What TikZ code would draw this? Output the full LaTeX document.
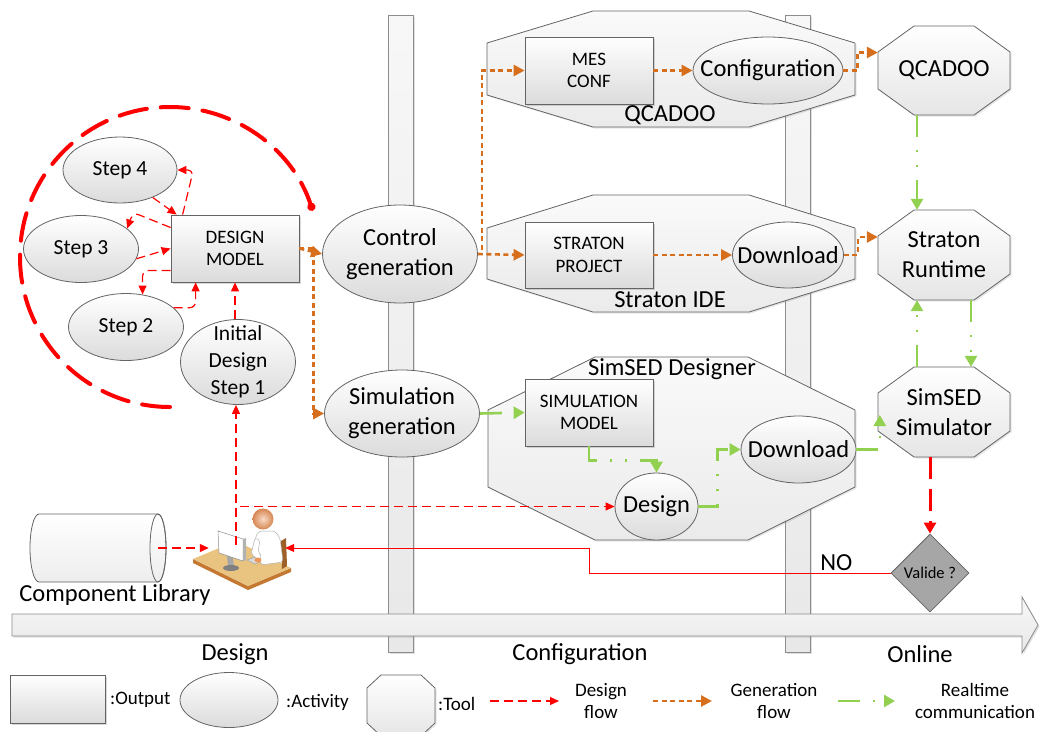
\documentclass[tikz,border=0pt]{standalone}
\usepackage{fontspec}
\setmainfont{Carlito}
\usetikzlibrary{arrows.meta,positioning,shapes.geometric,shadows}

\definecolor{flowred}{RGB}{255,0,0}
\definecolor{flowor}{RGB}{214,110,28}
\definecolor{flowgr}{RGB}{146,208,80}
\definecolor{rimgray}{RGB}{100,100,100}
\definecolor{decgray}{RGB}{166,166,166}
\definecolor{skin}{RGB}{238,150,90}
\definecolor{desktop}{RGB}{232,196,128}
\definecolor{deskside}{RGB}{196,120,50}

\newcommand\bigf{\fontsize{24.5}{30}\selectfont}
\newcommand\stepf{\fontsize{21.5}{27}\selectfont}
\newcommand\boxf{\fontsize{19}{22.5}\selectfont}
\newcommand\legf{\fontsize{19}{22}\selectfont}

% octagon given by its box (x1,y1,x2,y2) and the corner cuts (dx,dy)
\newcommand\octa[7][]{%
  \path[#1] (#2+#6,#3) -- (#4-#6,#3) -- (#4,#3+#7) -- (#4,#5-#7) -- (#4-#6,#5) -- (#2+#6,#5) -- (#2,#5-#7) -- (#2,#3+#7) -- cycle;}

\begin{document}
\begin{tikzpicture}[x=1pt,y=-1pt,
  every node/.style={inner sep=0pt},
  shadebox/.style={draw=rimgray,line width=.8pt,top color=white,bottom color=black!14},
  act/.style={shadebox,ellipse},
  outp/.style={shadebox,rectangle,font=\boxf,align=center,drop shadow={shadow xshift=1.5pt,shadow yshift=-1.5pt,opacity=.3}},
  grp/.style={draw=rimgray,line width=.8pt,top color=black!2,bottom color=black!8,drop shadow={shadow xshift=1.5pt,shadow yshift=-1.5pt,opacity=.2}},
  toolbg/.style={draw=rimgray,line width=.8pt,top color=white,bottom color=black!10,drop shadow={shadow xshift=1.5pt,shadow yshift=-1.5pt,opacity=.2}},
  tool/.style={rectangle,font=\bigf,align=center},
  lane/.style={draw=black!45,line width=.8pt,top color=black!3,bottom color=black!9,drop shadow={shadow xshift=1.5pt,shadow yshift=-1.5pt,opacity=.25}},
  dflow/.style={flowred,line width=1.2pt,dash pattern=on 9pt off 5pt,-{Triangle[length=9pt,width=8pt]}},
  gflow/.style={flowor,line width=2.6pt,dash pattern=on 5pt off 3.5pt,-{Triangle[length=11pt,width=11pt]}},
  rflow/.style={flowgr,line width=2.6pt,dash pattern=on 22pt off 13pt on 2pt off 13pt on 2pt off 13pt,-{Triangle[length=11pt,width=12pt]}},
  lbl/.style={font=\bigf,align=center},
  leg/.style={font=\legf,align=center}]
\useasboundingbox (0,0) rectangle (1040,731);

% lanes and time axis
\path[lane] (388,15) rectangle (413,652);
\path[lane] (785,15) rectangle (810,652);
\path[lane] (12,614) -- (1022,614) -- (1022,597) -- (1038,625) -- (1022,653) -- (1022,636) -- (12,636) -- cycle;

% tools
\octa[grp]{487}{11}{855}{127}{106}{32}
\octa[grp]{487}{195}{855}{312}{106}{33}
\octa[grp]{488}{357}{855}{540}{107}{53}
\octa[toolbg]{878}{26}{1010}{115}{36}{26}
\octa[toolbg]{878}{210}{1010}{300}{36}{26}
\octa[toolbg]{878}{367}{1010}{457}{36}{26}

\coordinate (loop_start) at (170,407);
\draw[flowred,line width=4pt,dash pattern=on 28pt off 14pt,line cap=round,-{Circle[length=8pt]}] (loop_start) arc[start angle=90,end angle=342,radius=150];

\node[act,minimum width=114pt,minimum height=66pt,label={[font=\stepf]center:Step 4}] (step_4) at (120,170) {};
\node[act,minimum width=115pt,minimum height=67pt,label={[font=\stepf]center:Step 3}] (step_3) at (81,249) {};
\node[act,minimum width=115pt,minimum height=67pt,label={[font=\stepf]center:Step 2}] (step_2) at (126,327) {};
\node[act,minimum width=115pt,minimum height=85pt,label={[font=\stepf,align=center]center:Initial\\Design\\Step 1}] (initial) at (238,362) {};
\node[outp,minimum width=128pt,minimum height=67pt] (design_model) at (235,248.5) {DESIGN\\MODEL};

\node[act,minimum width=155pt,minimum height=98pt,label={[lbl]center:Control\\generation}] (ctrl_gen) at (400,254) {};
\node[act,minimum width=155pt,minimum height=87pt,label={[lbl]center:Simulation\\generation}] (sim_gen) at (402,413.5) {};

\node[outp,minimum width=128pt,minimum height=67pt] (mes_conf) at (589,70.5) {MES\\CONF};
\node[act,minimum width=150pt,minimum height=67pt,label={[lbl]center:Configuration}] (config) at (768,70.5) {};
\node[lbl] (qcadoo_grp) at (670,115) {QCADOO};
\node[outp,minimum width=128pt,minimum height=66pt] (straton_prj) at (589,255) {STRATON\\PROJECT};
\node[act,minimum width=111pt,minimum height=66pt,label={[lbl]center:Download}] (download_ide) at (788,255) {};
\node[lbl] (straton_grp) at (670,300) {Straton IDE};
\node[lbl] (simsed_grp) at (672,369) {SimSED Designer};
\node[outp,minimum width=128pt,minimum height=67pt] (sim_model) at (589,412.5) {SIMULATION\\MODEL};
\node[act,minimum width=83pt,minimum height=67pt,label={[lbl]center:Design}] (sim_design) at (656.5,506.5) {};
\node[act,minimum width=115pt,minimum height=67pt,label={[lbl]center:Download}] (download_sim) at (798.5,449.5) {};

\node[tool,minimum width=132pt,minimum height=89pt] (qcadoo_rt) at (944,70.5) {QCADOO};
\node[tool,minimum width=132pt,minimum height=90pt] (straton_rt) at (944,255) {Straton\\Runtime};
\node[tool,minimum width=132pt,minimum height=90pt] (simsed_sim) at (944,412) {SimSED\\Simulator};
\node[diamond,draw=rimgray,line width=.8pt,fill=decgray,minimum width=78pt,minimum height=78pt,font=\fontsize{16.5}{20}\selectfont] (valide) at (930,573) {Valide ?};

% component library drum
\path[draw=rimgray,line width=.8pt,top color=white,bottom color=black!7] (158,514) -- (39,514) arc[start angle=270,end angle=90,x radius=9,y radius=34] -- (158,582) arc[start angle=90,end angle=-90,x radius=8,y radius=34] -- cycle;
\draw[rimgray,line width=.8pt] (158,548) ellipse (8 and 34);
\node[minimum width=136pt,minimum height=68pt] (comp_lib) at (98,548) {};
\node[lbl,anchor=north] (lib_txt) at (115,584) {Component Library};

% designer at his desk
\node[minimum width=76pt,minimum height=6pt] (user) at (247,548) {};
\begin{scope}[shift={(user.center)}]
  \fill[deskside] (-54,11) -- (1,38) -- (44,20) -- (44,24) -- (1,42) -- (-54,15) -- cycle;
  \fill[desktop] (-54,11) -- (-11,-7) -- (44,20) -- (1,38) -- cycle;
  \fill[deskside!80!black] (34,-7) -- (39,-10) -- (40,18) -- (35,21) -- cycle;
  \filldraw[black!15,draw=black!40,line width=.4pt] (0,12) -- (14,7) -- (22,10) -- (8,16) -- cycle;
  \fill[black!35] (-20,8) -- (-14,10) -- (-13,20) -- (-19,18) -- cycle;
  \fill[black!50] (-16,20) ellipse (8 and 3);
  \filldraw[white,draw=black!45,line width=.5pt] (-29,-17) -- (-4,-9) -- (-4,13) -- (-28,5) -- cycle;
  \fill[black!30] (-4,-9) -- (-1,-10) -- (-1,12) -- (-4,13) -- cycle;
  \filldraw[white,draw=black!30,line width=.5pt,rounded corners=3pt] (8,-10) -- (12,-17) -- (28,-17) -- (33,-10) -- (36,14) -- (14,17) -- cycle;
  \filldraw[white,draw=black!30,line width=.5pt,rounded corners=2pt] (8,-10) -- (4,6) -- (12,12) -- (15,8) -- (11,4) -- (13,-8) -- cycle;
  \fill[skin] (11,12) ellipse (3.5 and 2.5);
  \shade[inner color=skin!35!white,outer color=skin!90!black] (16,-29) circle (10.5);
\end{scope}

% design flow
\draw[dflow] (step_4.-40) -- ([xshift=6pt]design_model.north west);
\draw[dflow,rounded corners=6pt] ([xshift=12pt]design_model.north west) -- ([xshift=16pt]step_4.east) -- (step_4.east);
\draw[dflow,rounded corners=6pt] ([yshift=21pt]design_model.west) -- ([shift={(6pt,16pt)}]step_3.24) -- (step_3.24);
\draw[dflow] (step_3.-10) -- (design_model.west);
\draw[dflow,rounded corners=6pt] ([yshift=-22pt]design_model.west) -| (step_2.63);
\draw[dflow,rounded corners=6pt] (step_2.22) -| ([xshift=25pt]design_model.south west);
\draw[dflow] (design_model.south |- initial.north) -- (design_model.south);
\draw[dflow] ([xshift=-11pt]user.north) -- ([xshift=-11pt]user.north |- initial.south);
\draw[dflow] ([xshift=-11pt]user.north) |- (sim_design.west);
\draw[dflow] ([xshift=-8pt]comp_lib.east) -- (user.west);
\draw[flowred,line width=1pt,-{Triangle[length=9pt,width=8pt]}] (valide.west) -- node[pos=.18,above=2pt,font=\bigf,text=black] (no_lbl) {NO} ++(-301,0) |- (user.east);
\draw[flowred,line width=3pt,dash pattern=on 22pt off 10pt,-{Triangle[length=11pt,width=12pt]}] (valide.north |- simsed_sim.south) -- (valide.north);

% generation flow
\draw[gflow] (design_model.east) -- (ctrl_gen.west);
\draw[gflow] (design_model.east) -- ++(14,0) |- (sim_gen.west);
\draw[gflow] (ctrl_gen.east) -- ++(4,0) |- (mes_conf.west);
\draw[gflow] (ctrl_gen.east) -- (straton_prj.west);
\draw[gflow] (mes_conf.east) -- (config.west);
\draw[gflow] (straton_prj.east) -- (download_ide.west);
\draw[gflow] (config.east) -- ++(14,0) |- ([yshift=18pt]qcadoo_rt.west);
\draw[gflow] (download_ide.east) -- ++(14,0) |- ([yshift=18pt]straton_rt.west);

% realtime communication
\draw[rflow] ([xshift=-27pt]qcadoo_rt.south) -- ([xshift=-27pt]straton_rt.north);
\draw[rflow] ([xshift=27pt]straton_rt.south) -- ([xshift=27pt]simsed_sim.north);
\draw[rflow] ([xshift=-27pt]simsed_sim.north) -- ([xshift=-27pt]straton_rt.south);
\draw[rflow] (sim_gen.east) -- (sim_model.west);
\draw[rflow] (sim_model.south) -- ++(0,14) -| (sim_design.north);
\draw[rflow] (sim_design.east) -- ++(19,0) |- (download_sim.west);
\draw[rflow] (download_sim.east) -| ([shift={(2pt,-3pt)}]simsed_sim.west);

\node[lbl] (ph_design) at (235,654) {Design};
\node[lbl] (ph_config) at (580,654) {Configuration};
\node[lbl] (ph_online) at (920,654) {Online};

% legend
\node[outp,minimum width=95pt,minimum height=48pt] (lg_out) at (57.5,699) {};
\node[leg,anchor=west] (lg_out_txt) at (110,700) {:Output};
\node[act,minimum width=98pt,minimum height=55pt] (lg_act) at (229,700) {};
\node[leg,anchor=west] (lg_act_txt) at (286,702) {:Activity};
\octa[toolbg]{367}{675}{435}{736}{14}{13}
\node[leg,anchor=west] (lg_tool_txt) at (438,704) {:Tool};
\coordinate (lg_d0) at (490,701);
\coordinate (lg_d1) at (559,701);
\draw[dflow] (lg_d0) -- (lg_d1);
\node[leg] (lg_d_txt) at (601,701) {Design\\flow};
\coordinate (lg_g0) at (653,701);
\coordinate (lg_g1) at (712,701);
\draw[gflow] (lg_g0) -- (lg_g1);
\node[leg] (lg_g_txt) at (774,701) {Generation\\flow};
\coordinate (lg_r0) at (838,701);
\coordinate (lg_r1) at (895,701);
\draw[rflow] (lg_r0) -- (lg_r1);
\node[leg] (lg_r_txt) at (975,701) {Realtime\\communication};
\end{tikzpicture}
\end{document}
